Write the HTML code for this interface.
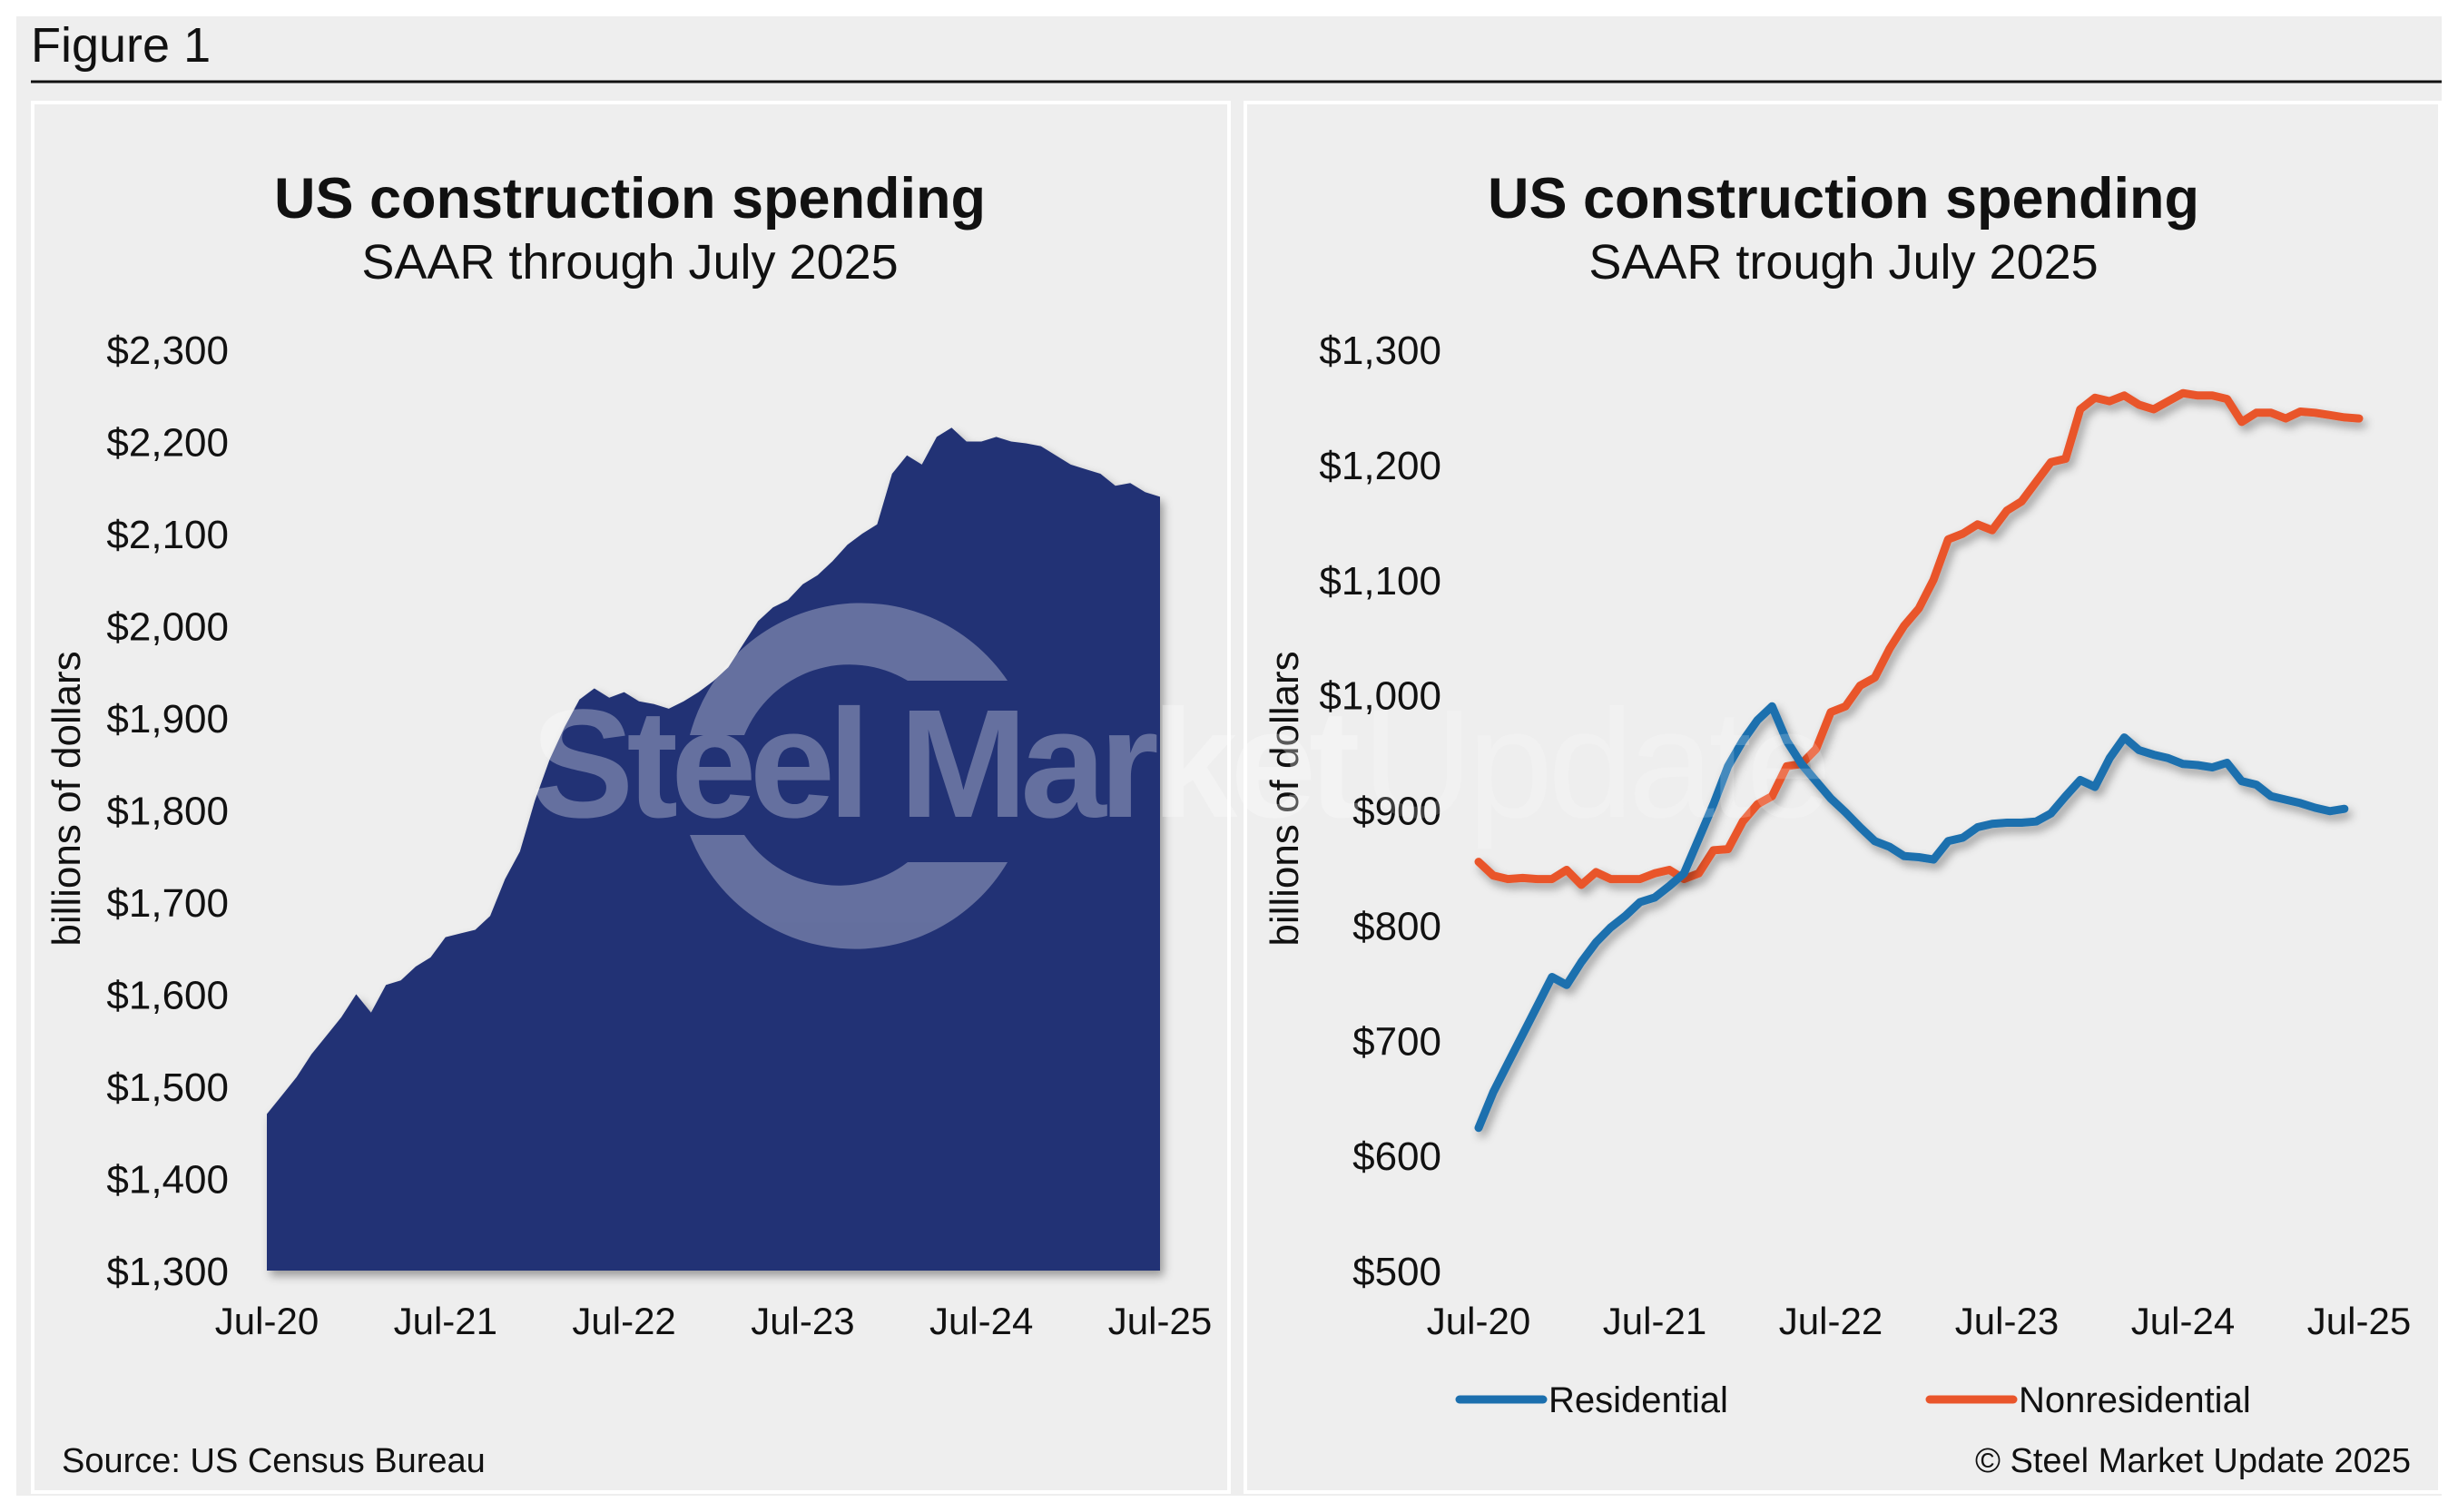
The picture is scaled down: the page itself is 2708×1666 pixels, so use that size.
<!DOCTYPE html>
<html><head><meta charset="utf-8"><style>
html,body{margin:0;padding:0;background:#fff;}
svg{display:block;font-family:"Liberation Sans",Arial,sans-serif;}
</style></head><body>
<svg id="fig" width="2708" height="1666" viewBox="0 0 2708 1666" xmlns="http://www.w3.org/2000/svg">
<defs>
<filter id="sh" x="-10%" y="-10%" width="130%" height="130%"><feDropShadow dx="4" dy="6" stdDeviation="5" flood-color="#000" flood-opacity="0.35"/></filter>
</defs>
<rect x="18" y="18" width="2672" height="1630" fill="#eeeeee"/>
<text x="34" y="68" font-size="54" fill="#111">Figure 1</text>
<line x1="34" y1="90" x2="2690" y2="90" stroke="#111" stroke-width="3"/>
<rect x="36" y="113" width="1318" height="1531" fill="#eeeeee" stroke="#fff" stroke-width="4"/>
<rect x="1372" y="113" width="1316" height="1531" fill="#eeeeee" stroke="#fff" stroke-width="4"/>
<g id="left"></g>
<g id="right"></g>
</svg>
<script>
const months = ["Jul-20","Jul-21","Jul-22","Jul-23","Jul-24","Jul-25"];
const leftTicks = [1300,1400,1500,1600,1700,1800,1900,2000,2100,2200,2300];
const rightTicks = [500,600,700,800,900,1000,1100,1200,1300];
const total = [1470,1490,1510,1535,1555,1575,1600,1580,1610,1615,1630,1640,
1662,1666,1670,1685,1725,1755,1810,1855,1890,1920,1932,1922,
1928,1918,1915,1910,1918,1928,1940,1955,1980,2005,2020,2028,
2045,2055,2070,2088,2100,2110,2165,2185,2175,2205,2215,2200,
2200,2205,2200,2198,2195,2185,2175,2170,2165,2152,2155,2145,2140];
const residential = [624,655,680,705,730,755,748,768,785,798,808,
820,824,834,845,875,905,938,960,978,990,960,940,
925,910,898,885,873,868,860,859,857,873,876,885,
888,889,889,890,897,912,926,920,945,963,952,948,
945,940,939,937,941,925,922,912,909,906,902,899,901];
const nonresidential = [855,843,840,841,840,840,848,835,846,840,840,840,
845,848,840,845,865,866,890,905,912,938,940,953,
985,990,1008,1015,1040,1060,1075,1100,1135,1140,1148,1143,
1160,1168,1185,1202,1205,1248,1258,1255,1260,1252,1248,1255,
1262,1260,1260,1257,1237,1245,1245,1240,1246,1245,1243,1241,1240];

const NS="http://www.w3.org/2000/svg";
function mk(tag,attrs,parent,txt){const e=document.createElementNS(NS,tag);for(const k in attrs)e.setAttribute(k,attrs[k]);if(txt!==undefined)e.textContent=txt;parent.appendChild(e);return e;}
function fmt(v){return "$"+v.toLocaleString("en-US");}

function chart(g,x0,x1,ymin,ymax,ticks,title,sub,labelRight,cx){
  const yTop=385,yBot=1400;
  const xs=i=>x0+(x1-x0)*i/60;
  const ys=v=>yBot-(v-ymin)/(ymax-ymin)*(yBot-yTop);
  let t=mk("text",{x:cx,y:240,"font-size":63,"font-weight":"bold","text-anchor":"middle",fill:"#111"},g,title);
  
  
  t=mk("text",{x:cx,y:307,"font-size":54,"text-anchor":"middle",fill:"#111"},g,sub);
  
  
  ticks.forEach(v=>{const e=mk("text",{x:labelRight,y:ys(v)+16,"font-size":44,"text-anchor":"end",fill:"#111"},g,fmt(v));
    
    });
  months.forEach((m,i)=>{const e=mk("text",{x:xs(i*12),y:1470,"font-size":42,"text-anchor":"middle",fill:"#111"},g,m);
    
    });
  return {xs,ys};
}

// Left chart
const L=document.getElementById("left");
const a=chart(L,294,1278,1300,2300,leftTicks,"US construction spending","SAAR through July 2025",252,694);
let yt=mk("text",{x:0,y:0,"font-size":44,"text-anchor":"middle",fill:"#111",transform:"translate(88,880) rotate(-90)"},L,"billions of dollars");


let d="M"+a.xs(0)+","+a.ys(1300);
total.forEach((v,i)=>{d+=" L"+a.xs(i).toFixed(1)+","+a.ys(v).toFixed(1);});
d+=" L"+a.xs(60)+","+a.ys(1300)+" Z";
let area=mk("path",{d:d,fill:"#213275",filter:"url(#sh)"},L);


let src=mk("text",{x:68,y:1622,"font-size":38,fill:"#111"},L,"Source: US Census Bureau");



// watermark
const W=mk("g",{opacity:0.3},document.getElementById("fig"));


mk("path",{d:"M760,810 A195,195 0 0 1 1110,750 L1000,750 A125,125 0 0 0 820,810 Z",fill:"#fff"},W);
mk("path",{d:"M760,920 A195,195 0 0 0 1110,950 L1000,950 A125,125 0 0 1 820,920 Z",fill:"#fff"},W);
mk("text",{x:585,y:900,"font-size":170,"font-weight":"bold",fill:"#fff","letter-spacing":"-8"},W,"Steel Market");
mk("text",{x:1500,y:900,"font-size":170,fill:"#fff","letter-spacing":"-6",opacity:0.6},W,"Update");

// Right chart
const R=document.getElementById("right");
const b=chart(R,1629,2599,500,1300,rightTicks,"US construction spending","SAAR trough July 2025",1588,2031);
yt=mk("text",{x:0,y:0,"font-size":44,"text-anchor":"middle",fill:"#111",transform:"translate(1430,880) rotate(-90)"},R,"billions of dollars");


function line(arr,color,name){let p="";arr.forEach((v,i)=>{p+=(i?" L":"M")+b.xs(i).toFixed(1)+","+b.ys(v).toFixed(1);});
  const e=mk("path",{d:p,fill:"none",stroke:color,"stroke-width":9,"stroke-linejoin":"round","stroke-linecap":"round",filter:"url(#sh)"},R);
  
  }
line(nonresidential,"#e9552b","nonresidential-line");
line(residential,"#1b6fae","residential-line");
let lg=mk("line",{x1:1608,y1:1542,x2:1700,y2:1542,stroke:"#1b6fae","stroke-width":9,"stroke-linecap":"round"},R);


lg=mk("text",{x:1706,y:1556,"font-size":40,fill:"#111"},R,"Residential");


lg=mk("line",{x1:2126,y1:1542,x2:2218,y2:1542,stroke:"#e9552b","stroke-width":9,"stroke-linecap":"round"},R);


lg=mk("text",{x:2224,y:1556,"font-size":40,fill:"#111"},R,"Nonresidential");


let cp=mk("text",{x:2656,y:1622,"font-size":38,"text-anchor":"end",fill:"#111"},R,"© Steel Market Update 2025");


</script>
</body></html>
